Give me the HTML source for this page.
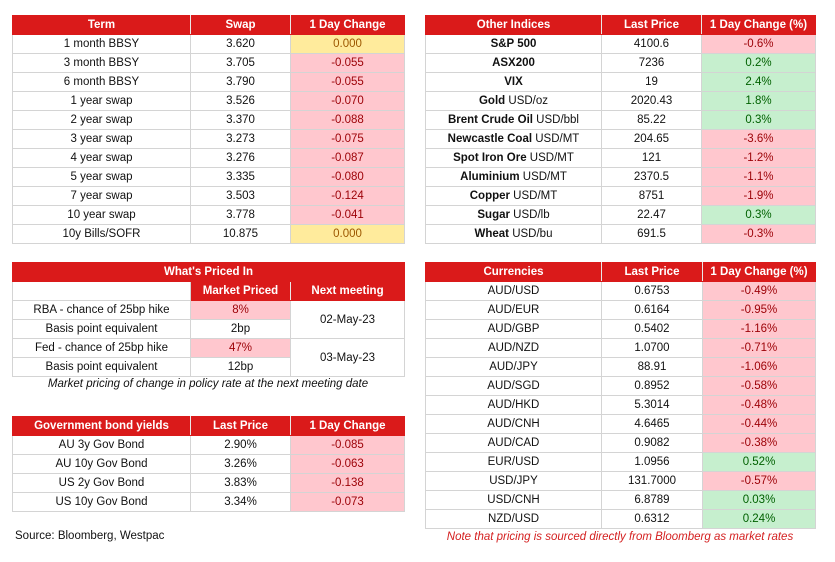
<!DOCTYPE html>
<html><head><meta charset="utf-8"><style>
body{margin:0;width:835px;height:562px;background:#fff;font-family:"Liberation Sans",sans-serif;font-size:11.5px;color:#111;position:relative;overflow:hidden}
table{position:absolute;border-collapse:collapse;table-layout:fixed}
td,th{height:18px;padding:0;text-align:center;border:1px solid #d4d4d4;white-space:nowrap;line-height:18px}
th{background:#da1a1a;color:#fff;font-weight:bold;border:1px solid #da1a1a;border-right-color:#e9e9e9}
th:last-child{border-right-color:#da1a1a}
.r{background:#ffc7ce;color:#9c0006}
.y{background:#ffeb9c;color:#9c5700}
.g{background:#c6efce;color:#006100}
.t{position:absolute;font-size:11.5px}
</style></head><body>

<table style="left:12px;top:15px;width:392px">
<colgroup><col style="width:178px"><col style="width:100px"><col style="width:114px"></colgroup>
<tr><th>Term</th><th>Swap</th><th>1 Day Change</th></tr>
<tr><td>1 month BBSY</td><td>3.620</td><td class="y">0.000</td></tr>
<tr><td>3 month BBSY</td><td>3.705</td><td class="r">-0.055</td></tr>
<tr><td>6 month BBSY</td><td>3.790</td><td class="r">-0.055</td></tr>
<tr><td>1 year swap</td><td>3.526</td><td class="r">-0.070</td></tr>
<tr><td>2 year swap</td><td>3.370</td><td class="r">-0.088</td></tr>
<tr><td>3 year swap</td><td>3.273</td><td class="r">-0.075</td></tr>
<tr><td>4 year swap</td><td>3.276</td><td class="r">-0.087</td></tr>
<tr><td>5 year swap</td><td>3.335</td><td class="r">-0.080</td></tr>
<tr><td>7 year swap</td><td>3.503</td><td class="r">-0.124</td></tr>
<tr><td>10 year swap</td><td>3.778</td><td class="r">-0.041</td></tr>
<tr><td>10y Bills/SOFR</td><td>10.875</td><td class="y">0.000</td></tr>
</table>

<table style="left:425px;top:15px;width:390px">
<colgroup><col style="width:176px"><col style="width:100px"><col style="width:114px"></colgroup>
<tr><th>Other Indices</th><th>Last Price</th><th>1 Day Change (%)</th></tr>
<tr><td><b>S&amp;P 500</b></td><td>4100.6</td><td class="r">-0.6%</td></tr>
<tr><td><b>ASX200</b></td><td>7236</td><td class="g">0.2%</td></tr>
<tr><td><b>VIX</b></td><td>19</td><td class="g">2.4%</td></tr>
<tr><td><b>Gold</b> USD/oz</td><td>2020.43</td><td class="g">1.8%</td></tr>
<tr><td><b>Brent Crude Oil</b> USD/bbl</td><td>85.22</td><td class="g">0.3%</td></tr>
<tr><td><b>Newcastle Coal</b> USD/MT</td><td>204.65</td><td class="r">-3.6%</td></tr>
<tr><td><b>Spot Iron Ore</b> USD/MT</td><td>121</td><td class="r">-1.2%</td></tr>
<tr><td><b>Aluminium</b> USD/MT</td><td>2370.5</td><td class="r">-1.1%</td></tr>
<tr><td><b>Copper</b> USD/MT</td><td>8751</td><td class="r">-1.9%</td></tr>
<tr><td><b>Sugar</b> USD/lb</td><td>22.47</td><td class="g">0.3%</td></tr>
<tr><td><b>Wheat</b> USD/bu</td><td>691.5</td><td class="r">-0.3%</td></tr>
</table>

<table style="left:12px;top:262px;width:392px">
<colgroup><col style="width:178px"><col style="width:100px"><col style="width:114px"></colgroup>
<tr><th colspan="3" style="border-right-color:#da1a1a">What's Priced In</th></tr>
<tr><td></td><th>Market Priced</th><th>Next meeting</th></tr>
<tr><td>RBA - chance of 25bp hike</td><td class="r">8%</td><td rowspan="2">02-May-23</td></tr>
<tr><td>Basis point equivalent</td><td>2bp</td></tr>
<tr><td>Fed - chance of 25bp hike</td><td class="r">47%</td><td rowspan="2">03-May-23</td></tr>
<tr><td>Basis point equivalent</td><td>12bp</td></tr>
</table>
<div class="t" style="left:12px;width:392px;top:378px;text-align:center;font-style:italic">Market pricing of change in policy rate at the next meeting date</div>

<table style="left:12px;top:416px;width:392px">
<colgroup><col style="width:178px"><col style="width:100px"><col style="width:114px"></colgroup>
<tr><th>Government bond yields</th><th>Last Price</th><th>1 Day Change</th></tr>
<tr><td>AU 3y Gov Bond</td><td>2.90%</td><td class="r">-0.085</td></tr>
<tr><td>AU 10y Gov Bond</td><td>3.26%</td><td class="r">-0.063</td></tr>
<tr><td>US 2y Gov Bond</td><td>3.83%</td><td class="r">-0.138</td></tr>
<tr><td>US 10y Gov Bond</td><td>3.34%</td><td class="r">-0.073</td></tr>
</table>
<div class="t" style="left:15px;top:530px">Source: Bloomberg, Westpac</div>

<table style="left:425px;top:262px;width:390px">
<colgroup><col style="width:176px"><col style="width:101px"><col style="width:113px"></colgroup>
<tr><th>Currencies</th><th>Last Price</th><th>1 Day Change (%)</th></tr>
<tr><td>AUD/USD</td><td>0.6753</td><td class="r">-0.49%</td></tr>
<tr><td>AUD/EUR</td><td>0.6164</td><td class="r">-0.95%</td></tr>
<tr><td>AUD/GBP</td><td>0.5402</td><td class="r">-1.16%</td></tr>
<tr><td>AUD/NZD</td><td>1.0700</td><td class="r">-0.71%</td></tr>
<tr><td>AUD/JPY</td><td>88.91</td><td class="r">-1.06%</td></tr>
<tr><td>AUD/SGD</td><td>0.8952</td><td class="r">-0.58%</td></tr>
<tr><td>AUD/HKD</td><td>5.3014</td><td class="r">-0.48%</td></tr>
<tr><td>AUD/CNH</td><td>4.6465</td><td class="r">-0.44%</td></tr>
<tr><td>AUD/CAD</td><td>0.9082</td><td class="r">-0.38%</td></tr>
<tr><td>EUR/USD</td><td>1.0956</td><td class="g">0.52%</td></tr>
<tr><td>USD/JPY</td><td>131.7000</td><td class="r">-0.57%</td></tr>
<tr><td>USD/CNH</td><td>6.8789</td><td class="g">0.03%</td></tr>
<tr><td>NZD/USD</td><td>0.6312</td><td class="g">0.24%</td></tr>
</table>
<div class="t" style="left:425px;width:390px;top:531px;text-align:center;font-style:italic;color:#d42020">Note that pricing is sourced directly from Bloomberg as market rates</div>
</body></html>
